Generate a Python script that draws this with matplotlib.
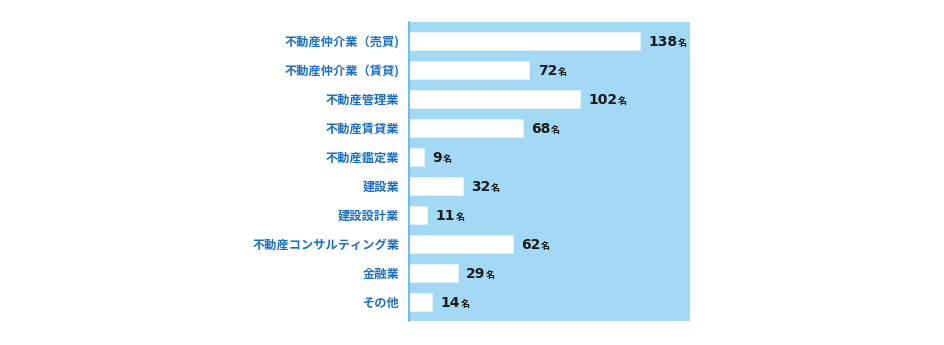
import matplotlib
matplotlib.use("Agg")
import matplotlib.pyplot as plt
from matplotlib.offsetbox import TextArea, HPacker, AnnotationBbox

plt.rcParams["font.family"] = ["Noto Sans CJK JP", "DejaVu Sans"]

categories = [
    "不動産仲介業（売買)",
    "不動産仲介業（賃貸)",
    "不動産管理業",
    "不動産賃貸業",
    "不動産鑑定業",
    "建設業",
    "建設設計業",
    "不動産コンサルティング業",
    "金融業",
    "その他",
]
counts = [138, 72, 102, 68, 9, 32, 11, 62, 29, 14]
unit = "名"

PANEL = "#a3d9f5"
EDGE = "#5cb3e2"
LABEL = "#1c70c0"
INK = "#1a1a1a"

fig = plt.figure(figsize=(9.45, 3.45), dpi=100)
ax = fig.add_axes([0.4328, 0.0696, 0.2974, 0.8667])
ax.set_facecolor(PANEL)

y = list(range(len(categories)))
ax.barh(y, counts, height=0.59, color="white", edgecolor="#e8f4fb", linewidth=0.5)
ax.set_xlim(0, 168)
ax.set_ylim(len(categories) - 0.345, -0.655)

ax.set_yticks(y)
ax.set_yticklabels(categories, color=LABEL, fontsize=8.8, fontweight="bold")
ax.tick_params(axis="y", length=0, pad=7)
ax.set_xticks([])
for side in ("top", "right", "bottom"):
    ax.spines[side].set_visible(False)
ax.spines["left"].set_color(EDGE)
ax.spines["left"].set_linewidth(1.2)

# 値ラベル：数字は太字、「名」は小さめ
for yi, v in zip(y, counts):
    num = TextArea(str(v), textprops=dict(fontsize=10, fontweight="bold", color=INK,
                                          family="DejaVu Sans"))
    suf = TextArea(unit, textprops=dict(fontsize=6.5, fontweight="bold", color=INK))
    box = HPacker(children=[num, suf], align="baseline", pad=0, sep=0.3)
    ab = AnnotationBbox(box, (v, yi), xybox=(6, -0.5), xycoords="data",
                        boxcoords="offset points", box_alignment=(0, 0.5),
                        frameon=False, pad=0)
    ax.add_artist(ab)

fig.savefig("out.png", dpi=100, facecolor="white")
